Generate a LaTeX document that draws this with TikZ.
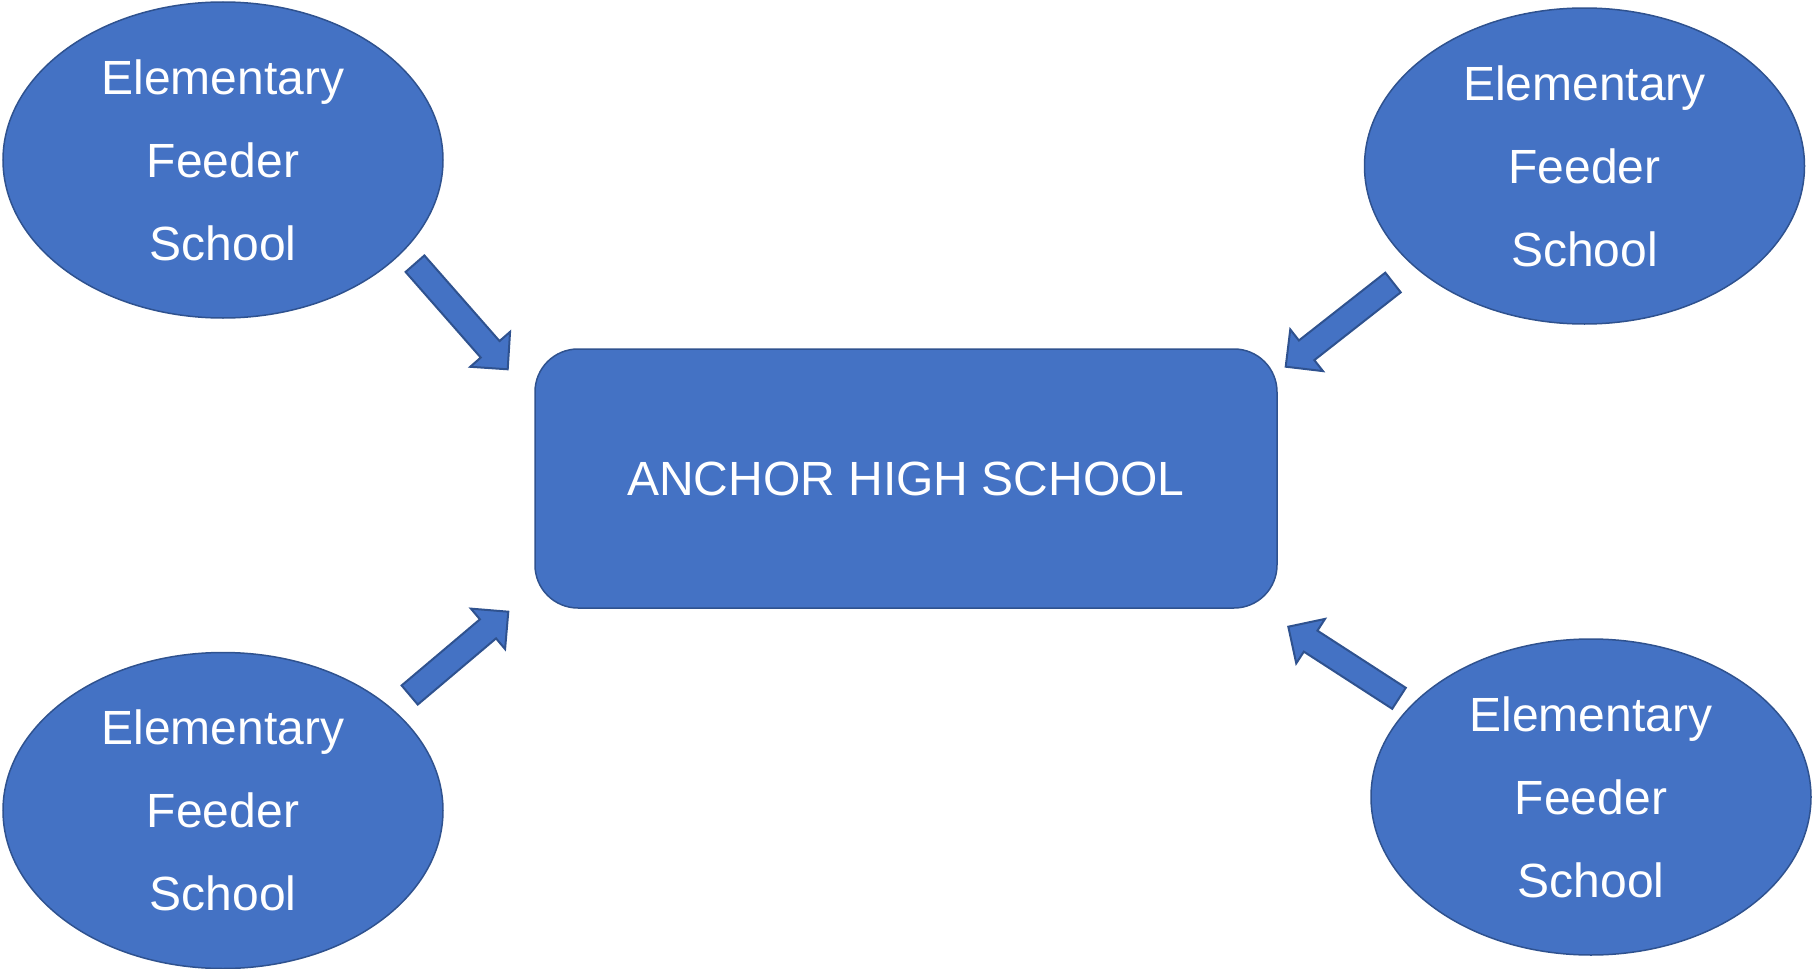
\documentclass[tikz,border=0pt]{standalone}
\usepackage{fontspec}
\setmainfont{Liberation Sans}
\usetikzlibrary{shapes.geometric,calc}
\definecolor{ofill}{HTML}{4472C4}
\definecolor{oline}{HTML}{2F528F}
\newcommand\feedarrow[2]{%
  \coordinate (hb) at ($(#2)!13.3pt!(#1)$);
  \draw[blockarr] ($(#1)!6.25pt!90:(#2)$) -- ($(hb)!6.25pt!90:(#2)$) -- ($(hb)!13.25pt!90:(#2)$) -- (#2)
    -- ($(hb)!13.25pt!-90:(#2)$) -- ($(hb)!6.25pt!-90:(#2)$) -- ($(#1)!6.25pt!-90:(#2)$) -- cycle;}
\tikzset{
  feeder/.style={ellipse, draw=oline, fill=ofill, line width=0.75pt, minimum width=220pt, minimum height=158pt,
    inner sep=0pt, text=white, align=center, font=\fontsize{24}{41.5}\selectfont},
  anchorbox/.style={rectangle, rounded corners=21.5pt, draw=oline, fill=ofill, line width=0.75pt,
    minimum width=371pt, minimum height=129.5pt, inner sep=0pt, text=white, font=\fontsize{24}{28}\selectfont},
  blockarr/.style={draw=oline, fill=ofill, line width=1pt, line join=miter}
}
\begin{document}
\begin{tikzpicture}[x=0.5pt,y=-0.5pt]
\useasboundingbox (0,0) rectangle (1812,969);
\node[feeder] (tl) at (223,160) {Elementary\\Feeder\\School};
\node[feeder] (tr) at (1584.5,166) {Elementary\\Feeder\\School};
\node[feeder] (bl) at (223,810.5) {Elementary\\Feeder\\School};
\node[feeder] (br) at (1591,797) {Elementary\\Feeder\\School};
\node[anchorbox] (hs) at (906,478.5) {ANCHOR HIGH SCHOOL};
\coordinate (a1s) at (415,263.7);   \coordinate (a1e) at (507.7,369.3);
\coordinate (a2s) at (1393,282.5);  \coordinate (a2e) at (1285.7,366.7);
\coordinate (a3s) at (409.7,695);   \coordinate (a3e) at (508.3,611.7);
\coordinate (a4s) at (1399,698.3);  \coordinate (a4e) at (1288.3,626.7);
\feedarrow{a1s}{a1e}
\feedarrow{a2s}{a2e}
\feedarrow{a3s}{a3e}
\feedarrow{a4s}{a4e}
\end{tikzpicture}
\end{document}
